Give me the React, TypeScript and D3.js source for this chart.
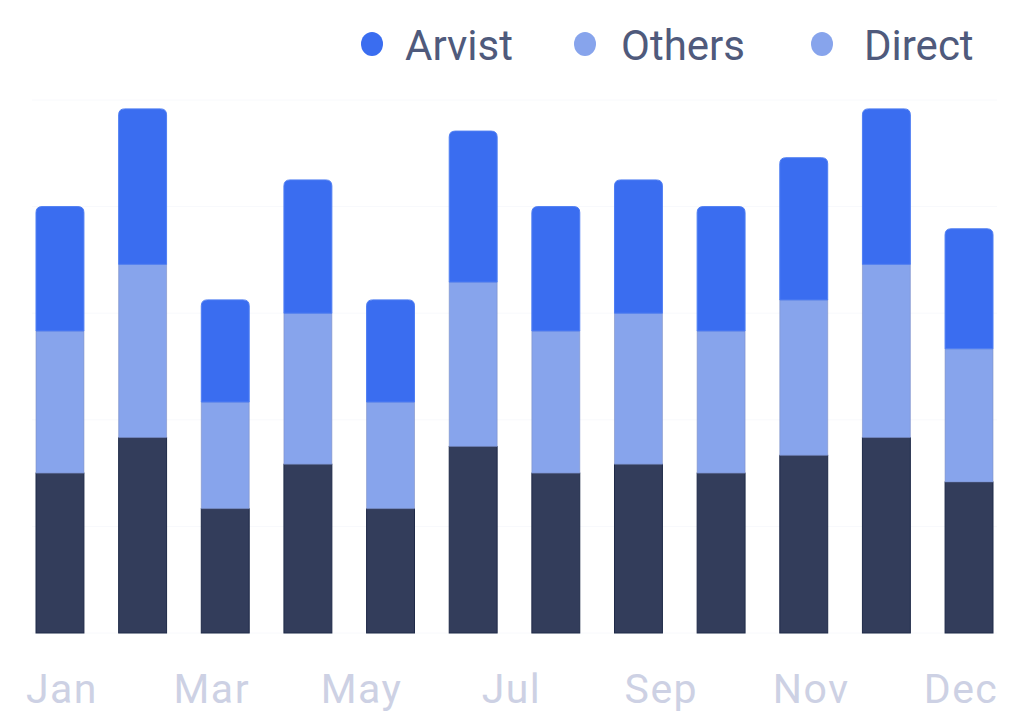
import * as d3 from "d3";

const months = ["Jan", "Feb", "Mar", "Apr", "May", "Jun", "Jul", "Aug", "Sep", "Oct", "Nov", "Dec"];
const tickLabels = ["Jan", "Mar", "May", "Jul", "Sep", "Nov", "Dec"];

// stacked bottom -> top
const directValues = [18, 22, 14, 19, 14, 21, 18, 19, 18, 20, 22, 17];
const othersValues = [16, 19.5, 12, 17, 12, 18.5, 16, 17, 16, 17.5, 19.5, 15];
const arvistValues = [14, 17.5, 11.5, 15, 11.5, 17, 14, 15, 14, 16, 17.5, 13.5];

const gridTicks = [0, 12, 24, 36, 48, 60];

const seriesNames = ["Direct", "Others", "Arvist"];
const legendNames = ["Arvist", "Others", "Direct"];

const colors: Record<string, string> = {
  Arvist: "#3a6df0",
  Others: "#87a4ec",
  Direct: "#333d5b",
};
const strokes: Record<string, string> = {
  Arvist: "#4f7ef2",
  Others: "#7d90c6",
  Direct: "#1f2a48",
};
const legendColors: Record<string, string> = {
  Arvist: "#3a6df0",
  Others: "#87a4ec",
  Direct: "#87a4ec",
};

const width = 1029;
const height = 720;
const margin = { top: 100, right: 36, bottom: 87, left: 36 };
const innerWidth = width - margin.left - margin.right;
const innerHeight = height - margin.top - margin.bottom;

// rect with rounded top corners only
const topRounded = (x: number, y: number, w: number, h: number, r: number) => {
  const rr = Math.min(r, h / 2, w / 2);
  const p = d3.path();
  p.moveTo(x, y + h);
  p.lineTo(x, y + rr);
  p.quadraticCurveTo(x, y, x + rr, y);
  p.lineTo(x + w - rr, y);
  p.quadraticCurveTo(x + w, y, x + w, y + rr);
  p.lineTo(x + w, y + h);
  p.closePath();
  return p.toString();
};

const App = () => {
  const rows = months.map((m, i) => ({
    month: m,
    Direct: directValues[i],
    Others: othersValues[i],
    Arvist: arvistValues[i],
  }));

  const stacked = d3.stack<any>().keys(seriesNames)(rows);

  const xScale = d3
    .scaleBand()
    .domain(months)
    .range([0, innerWidth])
    .paddingInner(0.42)
    .paddingOuter(0);

  const yScale = d3.scaleLinear().domain([0, 60]).range([innerHeight, 0]);

  const bw = xScale.bandwidth();

  // month labels are spread evenly from first to last bar
  const labelScale = d3
    .scalePoint()
    .domain(tickLabels)
    .range([xScale("Jan")! + bw / 2 + 2, xScale("Dec")! + bw / 2 - 8]);

  const legendDot = [372, 585, 822];
  const legendText = [405, 621, 864];

  return (
    <svg
      width={width}
      height={height}
      style={{ position: "absolute", left: 0, top: 0, background: "#fff" }}
    >
      <g transform={`translate(${margin.left},${margin.top})`}>
        {gridTicks.map((t) => (
          <line
            key={t}
            x1={-4}
            x2={innerWidth + 4}
            y1={yScale(t)}
            y2={yScale(t)}
            stroke="#f8f9fc"
            strokeWidth={1}
          />
        ))}
        {stacked.map((layer) => (
          <g key={layer.key}>
            {layer.map((d, i) => {
              const x = xScale(months[i])!;
              const y0 = yScale(d[0]);
              const y1 = yScale(d[1]);
              const key = layer.key;
              if (key === "Arvist") {
                return (
                  <path
                    key={i}
                    d={topRounded(x, y1, bw, y0 - y1, 6)}
                    fill={colors[key]}
                    stroke={strokes[key]}
                    strokeWidth={1}
                  />
                );
              }
              return (
                <rect
                  key={i}
                  x={x}
                  y={y1}
                  width={bw}
                  height={y0 - y1}
                  fill={colors[key]}
                  stroke={strokes[key]}
                  strokeWidth={1}
                  strokeOpacity={key === "Others" ? 0.6 : 1}
                />
              );
            })}
          </g>
        ))}
      </g>

      <g
        transform={`translate(${margin.left},${height - 17})`}
        fontFamily="Roboto, sans-serif"
        fontSize={41}
        fill="#cdd1e4"
        textAnchor="middle"
      >
        {tickLabels.map((l) => (
          <text key={l} x={labelScale(l)} letterSpacing={1.5}>
            {l}
          </text>
        ))}
      </g>

      <g fontFamily="Roboto, sans-serif" fontSize={42} fill="#4f5a7c">
        {legendNames.map((n, i) => (
          <g key={n}>
            <ellipse cx={legendDot[i]} cy={44} rx={11} ry={12} fill={legendColors[n]} />
            <text x={legendText[i]} y={60}>
              {n}
            </text>
          </g>
        ))}
      </g>
    </svg>
  );
};

export default App;
